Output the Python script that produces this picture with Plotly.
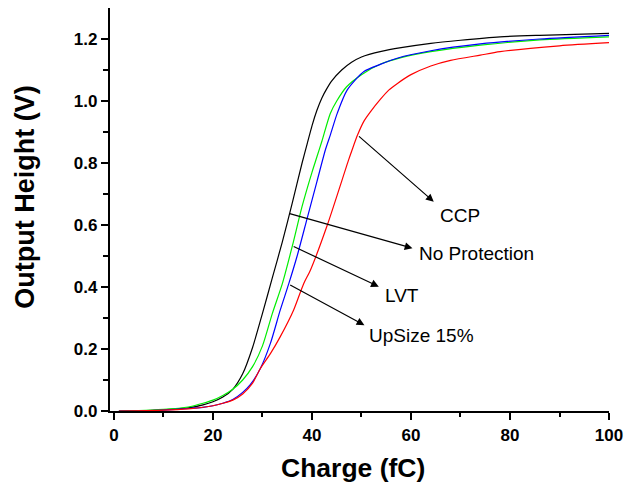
import plotly.graph_objects as go

# ---- data ----
x_np = [1, 5, 10, 15, 18, 20, 22, 24, 26, 28, 30, 32, 34, 36, 38, 39, 40, 41, 42, 43, 44, 46, 48, 50, 54, 58, 64, 70, 78, 86, 100]
y_np = [0.0, 0.001, 0.004, 0.01, 0.02, 0.03, 0.045, 0.07, 0.12, 0.205, 0.315, 0.43, 0.545, 0.67, 0.80, 0.86, 0.92, 0.97, 1.01, 1.04, 1.065, 1.10, 1.125, 1.142, 1.16, 1.172, 1.186, 1.196, 1.207, 1.212, 1.218]

x_lvt = [1, 5, 10, 15, 18, 20, 22, 24, 26, 28, 30, 32, 34, 36, 38, 40, 41, 42, 43.7, 45, 47, 50, 54, 58, 64, 74, 86, 100]
y_lvt = [0.0, 0.001, 0.005, 0.013, 0.025, 0.035, 0.05, 0.07, 0.10, 0.143, 0.21, 0.315, 0.41, 0.53, 0.66, 0.77, 0.82, 0.87, 0.96, 1.0, 1.046, 1.085, 1.12, 1.14, 1.159, 1.18, 1.197, 1.207]

x_up = [1, 5, 10, 15, 18, 20, 22, 24, 26, 27.5, 29.6, 31.6, 33.6, 35.3, 37, 39, 41, 42.7, 43.7, 45.1, 47.1, 50.5, 53.8, 57.2, 64, 74, 86, 100]
y_up = [0.0, 0.0, 0.003, 0.008, 0.012, 0.017, 0.025, 0.037, 0.06, 0.084, 0.138, 0.218, 0.326, 0.41, 0.50, 0.62, 0.74, 0.842, 0.89, 0.96, 1.035, 1.095, 1.118, 1.138, 1.162, 1.184, 1.2, 1.212]

x_ccp = [1, 10, 15, 18, 20, 22, 24, 26, 28, 29.6, 31.6, 33.6, 36.3, 38.3, 39.7, 43.1, 47.4, 48.1, 49.2, 50.5, 51.8, 53.8, 55.5, 57.2, 60, 64, 68, 74, 78, 90, 100]
y_ccp = [0.0, 0.003, 0.007, 0.012, 0.017, 0.025, 0.035, 0.055, 0.09, 0.138, 0.185, 0.24, 0.326, 0.41, 0.455, 0.60, 0.81, 0.842, 0.89, 0.935, 0.965, 1.005, 1.035, 1.056, 1.085, 1.113, 1.131, 1.148, 1.159, 1.178, 1.188]

x_ticks = [0, 20, 40, 60, 80, 100]
y_ticks = [0.0, 0.2, 0.4, 0.6, 0.8, 1.0, 1.2]
y_tick_text = ["0.0", "0.2", "0.4", "0.6", "0.8", "1.0", "1.2"]

labels = ["CCP", "No Protection", "LVT", "UpSize 15%"]
label_x = [69.8, 61.3, 54.4, 51.2]
label_y = [0.632, 0.509, 0.374, 0.245]
arrow_tail_x = [49.2, 35.2, 36.0, 35.3]
arrow_tail_y = [0.89, 0.638, 0.533, 0.409]
arrow_tip_x = [64.6, 60.3, 53.5, 50.6]
arrow_tip_y = [0.675, 0.525, 0.401, 0.277]

fig = go.Figure()
series = [
    (x_np, y_np, "black", "No Protection"),
    (x_lvt, y_lvt, "#00ee00", "LVT"),
    (x_up, y_up, "#0000ff", "UpSize 15%"),
    (x_ccp, y_ccp, "#ff0000", "CCP"),
]
for xs, ys, c, n in series:
    fig.add_trace(go.Scatter(x=xs, y=ys, mode="lines", name=n,
                             line=dict(color=c, width=1.2, shape="spline", smoothing=0.7)))

annotations = []
for i, t in enumerate(labels):
    annotations.append(dict(x=arrow_tip_x[i], y=arrow_tip_y[i], ax=arrow_tail_x[i], ay=arrow_tail_y[i],
                            xref="x", yref="y", axref="x", ayref="y", text="", showarrow=True,
                            arrowhead=2, arrowsize=1.3, arrowwidth=1.2, arrowcolor="black"))
    annotations.append(dict(x=label_x[i], y=label_y[i], xref="x", yref="y", text=t, showarrow=False,
                            xanchor="center" if i == 0 else "left", yanchor="middle",
                            font=dict(family="Liberation Sans, Arial", size=19, color="black")))

annotations.append(dict(x=0.486, y=-0.1414, xref="paper", yref="paper", text="<b>Charge (fC)</b>",
                        showarrow=False, xanchor="center", yanchor="middle",
                        font=dict(family="Liberation Sans, Arial", size=26.5, color="black")))
annotations.append(dict(x=-0.1707, y=0.531, xref="paper", yref="paper", text="<b>Output Height (V)</b>",
                        showarrow=False, xanchor="center", yanchor="middle", textangle=-90,
                        font=dict(family="Liberation Sans, Arial", size=27, color="black")))

fig.update_layout(
    width=625, height=486,
    margin=dict(l=110, r=16, t=8, b=75, autoexpand=False),
    paper_bgcolor="white", plot_bgcolor="white",
    showlegend=False,
    annotations=annotations,
)
fig.update_xaxes(range=[-0.8, 100], tickvals=x_ticks, ticktext=[str(v) for v in x_ticks], automargin=False,
                 showgrid=False, zeroline=False, showline=True, linecolor="black", linewidth=1.5,
                 ticks="outside", ticklen=7.5, tickwidth=1.5, tickcolor="black",
                 tickfont=dict(family="Liberation Sans, Arial", size=17, color="black", weight="bold"),
                 minor=dict(tickvals=[10, 30, 50, 70, 90], ticks="outside", ticklen=4.5, tickwidth=1.5, tickcolor="black"))
fig.update_yaxes(range=[0, 1.3], tickvals=y_ticks, ticktext=y_tick_text, automargin=False,
                 showgrid=False, zeroline=False, showline=True, linecolor="black", linewidth=1.5,
                 ticks="outside", ticklen=7.5, tickwidth=1.5, tickcolor="black",
                 tickfont=dict(family="Liberation Sans, Arial", size=17, color="black", weight="bold"),
                 minor=dict(tickvals=[0.1, 0.3, 0.5, 0.7, 0.9, 1.1], ticks="outside", ticklen=5, tickwidth=1.5, tickcolor="black"))

fig.write_html("out.html")
